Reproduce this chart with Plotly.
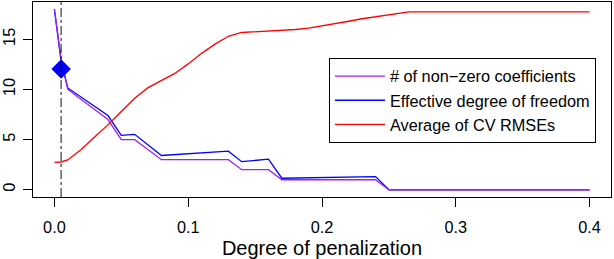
import plotly.graph_objects as go

# ---- data ----
x_steps = [0.0, 0.005, 0.01, 0.04, 0.05, 0.06, 0.08, 0.13, 0.14, 0.16, 0.17, 0.24, 0.25, 0.4]
nonzero = [18, 13, 10, 7, 5, 5, 3, 3, 2, 2, 1, 1, 0, 0]
eff_df = [18, 12.8, 10.15, 7.4, 5.43, 5.53, 3.42, 3.85, 2.8, 3.06, 1.15, 1.31, 0, 0]

x_cv = [0.0, 0.005, 0.01, 0.02, 0.03, 0.04, 0.05, 0.06, 0.07, 0.08, 0.09, 0.10, 0.11, 0.12,
        0.13, 0.14, 0.15, 0.16, 0.17, 0.18, 0.19, 0.20, 0.21, 0.22, 0.23, 0.24, 0.25, 0.265, 0.4]
cv_rmse = [2.73, 2.77, 2.97, 4.02, 5.27, 6.47, 7.8, 9.13, 10.18, 10.92, 11.6, 12.55, 13.6, 14.52,
           15.3, 15.68, 15.75, 15.82, 15.9, 15.98, 16.12, 16.33, 16.56, 16.8, 17.05, 17.25, 17.45, 17.73, 17.73]

chosen_x = [0.005]
chosen_y = [12.05]

x_ticks = [0.0, 0.1, 0.2, 0.3, 0.4]
x_ticklabels = ["0.0", "0.1", "0.2", "0.3", "0.4"]
y_ticks = [0, 5, 10, 15]
y_ticklabels = ["0", "5", "10", "15"]

FONT = "Liberation Sans, Arial, Helvetica, sans-serif"
FS = 16.3

fig = go.Figure()
fig.add_trace(go.Scatter(x=x_steps, y=eff_df, mode="lines", name="Effective degree of freedom",
                         line=dict(color="#0000FF", width=1.3), legendrank=2))
fig.add_trace(go.Scatter(x=x_steps, y=nonzero, mode="lines", name="# of non\u2212zero coefficients",
                         line=dict(color="#A020F0", width=1.3), legendrank=1))
fig.add_trace(go.Scatter(x=x_cv, y=cv_rmse, mode="lines", name="Average of CV RMSEs",
                         line=dict(color="#FF0000", width=1.3), legendrank=3))
fig.add_trace(go.Scatter(x=chosen_x, y=chosen_y, mode="markers", showlegend=False,
                         marker=dict(symbol="diamond", size=15, color="#0000FF")))

fig.add_vline(x=chosen_x[0], line=dict(color="#111111", width=1, dash="dashdot"))

fig.update_layout(
    width=614, height=259,
    margin=dict(l=33, r=3, t=2, b=62),
    paper_bgcolor="white", plot_bgcolor="white",
    font=dict(family=FONT, size=FS, color="black"),
    showlegend=True,
    legend=dict(x=0.512, y=0.713, xanchor="left", yanchor="top",
                bgcolor="white", bordercolor="black", borderwidth=1,
                font=dict(size=FS), itemwidth=50, tracegroupgap=0),
    xaxis=dict(range=[-0.016, 0.416], tickvals=x_ticks, ticktext=x_ticklabels,
               showgrid=False, zeroline=False, showline=True, mirror=True,
               linecolor="black", linewidth=1, ticks="outside", ticklen=9,
               tickcolor="black", ticklabelstandoff=6, automargin=False,
               title=dict(text="Degree of penalization", standoff=12)),
    yaxis=dict(range=[-0.72, 18.72], tickvals=y_ticks, ticktext=y_ticklabels,
               showgrid=False, zeroline=False, showline=True, mirror=True,
               linecolor="black", linewidth=1, ticks="outside", ticklen=9,
               tickcolor="black", tickangle=-90, ticklabelstandoff=1, automargin=False),
)

fig.write_html("out.html", config={"displayModeBar": False},
               post_script="document.body.style.margin='0';document.body.style.overflow='hidden';")
